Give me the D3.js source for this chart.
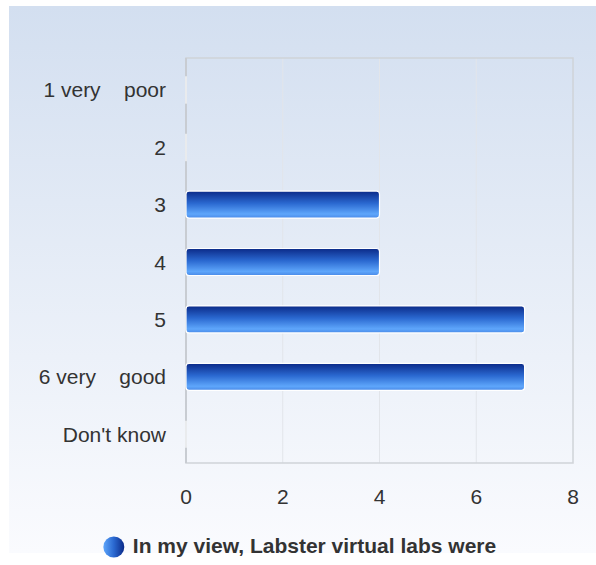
<!DOCTYPE html>
<html><head><meta charset="utf-8">
<script src="https://cdn.jsdelivr.net/npm/d3@7"></script>
<style>html,body{margin:0;padding:0;background:#fff;}svg{display:block;}</style>
</head><body>
<script>
const categories = ["1 very    poor", "2", "3", "4", "5", "6 very    good", "Don't know"];
const values = [0, 0, 4, 4, 7, 7, 0];
const xTicks = [0, 2, 4, 6, 8];
const seriesName = "In my view, Labster virtual labs were";

const W = 596, H = 565;
const FONT = "Liberation Sans, Arial, sans-serif";
const svg = d3.select("body").append("svg").attr("width", W).attr("height", H);
const defs = svg.append("defs");
const bg = defs.append("linearGradient").attr("id","bg").attr("x1",0).attr("y1",0).attr("x2",0).attr("y2",1);
bg.append("stop").attr("offset","0%").attr("stop-color","#d3dff0");
bg.append("stop").attr("offset","100%").attr("stop-color","#fafbfe");
const bar = defs.append("linearGradient").attr("id","bar").attr("x1",0).attr("y1",0).attr("x2",0).attr("y2",1);
bar.append("stop").attr("offset","0%").attr("stop-color","#0b2a88");
bar.append("stop").attr("offset","45%").attr("stop-color","#2a68d0");
bar.append("stop").attr("offset","85%").attr("stop-color","#5ea6fb");
bar.append("stop").attr("offset","100%").attr("stop-color","#4a8ae8");
const leg = defs.append("linearGradient").attr("id","leg").attr("x1",0).attr("y1",0).attr("x2",1).attr("y2",0);
leg.append("stop").attr("offset","0%").attr("stop-color","#5ea6fb");
leg.append("stop").attr("offset","50%").attr("stop-color","#2a68d0");
leg.append("stop").attr("offset","100%").attr("stop-color","#0b2a88");

svg.append("rect").attr("x",9).attr("y",6).attr("width",W-9).attr("height",547).attr("fill","url(#bg)");

const m = {left:186, right:573, top:58, bottom:463};
const x = d3.scaleLinear().domain([0, 8]).range([m.left, m.right]);
const y = d3.scaleBand().domain(categories).range([61, 463]).paddingInner(0.53).paddingOuter(0.265);

// grid
svg.append("g").selectAll("line").data(xTicks.slice(1, -1)).join("line")
  .attr("x1", d=>x(d)).attr("x2", d=>x(d)).attr("y1", m.top).attr("y2", m.bottom)
  .attr("stroke","#e2e5ea").attr("stroke-width",1);
svg.append("rect").attr("x",m.left).attr("y",m.top).attr("width",m.right-m.left).attr("height",m.bottom-m.top)
  .attr("fill","none").attr("stroke","#cfd3d8").attr("stroke-width",1.5);
svg.append("line").attr("x1",m.left).attr("x2",m.left).attr("y1",m.top).attr("y2",m.bottom)
  .attr("stroke","#c8ccd2").attr("stroke-width",2);

// bars
svg.append("g").selectAll("rect").data(values).join("rect")
  .attr("x", x(0)).attr("y", (d,i)=>y(categories[i]))
  .attr("width", d=>Math.max(x(d)-x(0), 0.01)).attr("height", y.bandwidth())
  .attr("rx", 3).attr("ry", 3)
  .attr("fill","url(#bar)").attr("stroke","#ffffff").attr("stroke-width",1.2);

// y labels
svg.append("g").selectAll("text").data(categories).join("text")
  .attr("x", m.left - 20).attr("y", d=>y(d)+y.bandwidth()/2 + 7.5)
  .attr("text-anchor","end")
  .attr("font-family",FONT).attr("font-size",21).attr("fill","#333")
  .style("white-space","pre").text(d=>d);

// x labels
svg.append("g").selectAll("text").data(xTicks).join("text")
  .attr("x", d=>x(d)).attr("y", 504)
  .attr("text-anchor","middle")
  .attr("font-family",FONT).attr("font-size",21).attr("fill","#333")
  .text(d=>d);

// legend
const lg = svg.append("g");
const lt = lg.append("text").attr("y", 553).attr("font-family",FONT)
  .attr("font-size",21).attr("font-weight","bold").attr("fill","#333").text(seriesName);
const tw = lt.node().getComputedTextLength();
const cx0 = 300 - (tw + 29)/2;
lg.append("circle").attr("cx", cx0 + 10).attr("cy", 547).attr("r", 10.5).attr("fill","url(#leg)");
lt.attr("x", cx0 + 29);
</script>
</body></html>
